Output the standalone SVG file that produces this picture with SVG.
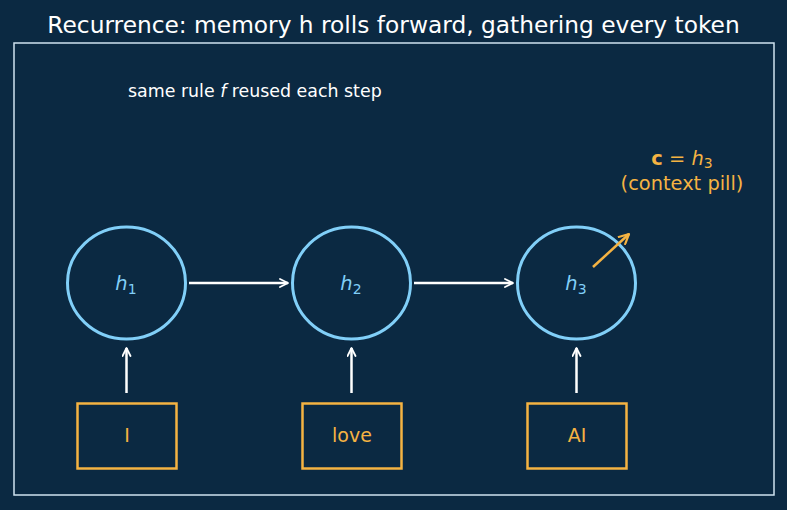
<svg xmlns="http://www.w3.org/2000/svg" width="787" height="510" viewBox="0 0 787 510">
<defs>
<marker id="aw" viewBox="0 0 10 10" refX="9" refY="5" markerWidth="10" markerHeight="10" markerUnits="userSpaceOnUse" orient="auto"><path d="M1,1 L9,5 L1,9" fill="none" stroke="#ffffff" stroke-width="1.8" stroke-linecap="round" stroke-linejoin="round"/></marker>
<marker id="ao" viewBox="0 0 10 10" refX="9" refY="5" markerWidth="12" markerHeight="12" markerUnits="userSpaceOnUse" orient="auto"><path d="M1,1 L9,5 L1,9" fill="none" stroke="#f5b342" stroke-width="1.8" stroke-linecap="round" stroke-linejoin="round"/></marker>
</defs>
<style>
text{font-family:"DejaVu Sans","Liberation Sans",sans-serif}
.title{fill:#ffffff;font-size:23.3px}
.note{fill:#ffffff;font-size:17.4px}
.hn{fill:none;stroke:#81cff8;stroke-width:3}
.hl{fill:#81cff8;font-size:19.5px;font-style:italic}
.tok{fill:none;stroke:#f5b342;stroke-width:2.5}
.tl{fill:#f5b342;font-size:19px}
.cw{stroke:#ffffff;stroke-width:2.5;fill:none}
.co{stroke:#f5b342;stroke-width:2.5;fill:none}
.or{fill:#f5b342;font-size:19.4px}
</style>
<rect width="787" height="510" fill="#0b2942"/>
<text class="title" x="393.5" y="33" text-anchor="middle">Recurrence: memory h rolls forward, gathering every token</text>
<rect x="14" y="43" width="760" height="452" fill="none" stroke="#cfe2ef" stroke-width="1.5"/>
<text class="note" x="128" y="97">same rule <tspan font-style="italic">f</tspan> reused each step</text>
<g id="c-label">
<text class="or" x="682" y="165" text-anchor="middle"><tspan font-weight="bold">c</tspan> = <tspan font-style="italic">h</tspan><tspan font-size="14" dy="3">3</tspan></text>
<text class="or" x="682" y="190" text-anchor="middle">(context pill)</text>
</g>
<g id="h1"><ellipse class="hn" cx="126.5" cy="283" rx="59" ry="56"/><text class="hl" x="126" y="290" text-anchor="middle">h<tspan font-style="normal" font-size="14" dy="4">1</tspan></text></g>
<g id="h2"><ellipse class="hn" cx="351.5" cy="283" rx="59" ry="56"/><text class="hl" x="351" y="290" text-anchor="middle">h<tspan font-style="normal" font-size="14" dy="4">2</tspan></text></g>
<g id="h3"><ellipse class="hn" cx="576.5" cy="283" rx="59" ry="56"/><text class="hl" x="576" y="290" text-anchor="middle">h<tspan font-style="normal" font-size="14" dy="4">3</tspan></text></g>
<g id="t1"><rect class="tok" x="77.5" y="403.5" width="99" height="65"/><text class="tl" x="127" y="442" text-anchor="middle">I</text></g>
<g id="t2"><rect class="tok" x="302.5" y="403.5" width="99" height="65"/><text class="tl" x="352" y="442" text-anchor="middle">love</text></g>
<g id="t3"><rect class="tok" x="527.5" y="403.5" width="99" height="65"/><text class="tl" x="577" y="442" text-anchor="middle">AI</text></g>
<g id="connectors">
<line class="cw" x1="189" y1="283" x2="288" y2="283" marker-end="url(#aw)"/>
<line class="cw" x1="414" y1="283" x2="513" y2="283" marker-end="url(#aw)"/>
<line class="cw" x1="126.5" y1="393" x2="126.5" y2="348" marker-end="url(#aw)"/>
<line class="cw" x1="351.5" y1="393" x2="351.5" y2="348" marker-end="url(#aw)"/>
<line class="cw" x1="576.5" y1="393" x2="576.5" y2="348" marker-end="url(#aw)"/>
<line class="co" x1="593" y1="267" x2="629" y2="234" marker-end="url(#ao)"/>
</g>
</svg>
